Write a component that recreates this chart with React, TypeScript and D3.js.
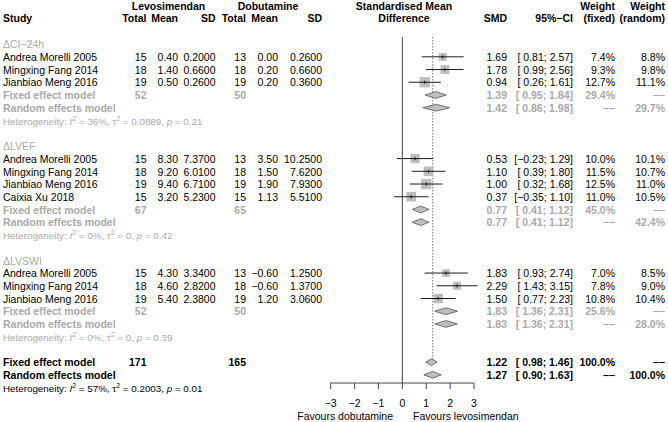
import React from "react";
import * as d3 from "d3";

const groupLabels = ["ΔCI−24h", "ΔLVEF", "ΔLVSWI"];
const studyNames = [
  "Andrea Morelli 2005", "Mingxing Fang 2014", "Jianbiao Meng 2016",
  "Andrea Morelli 2005", "Mingxing Fang 2014", "Jianbiao Meng 2016", "Caixia Xu 2018",
  "Andrea Morelli 2005", "Mingxing Fang 2014", "Jianbiao Meng 2016",
];
const studyGroup = [0, 0, 0, 1, 1, 1, 1, 2, 2, 2];
const nLevo = [15, 18, 19, 15, 18, 19, 15, 15, 18, 19];
const meanLevo = [0.4, 1.4, 0.5, 8.3, 9.2, 9.4, 3.2, 4.3, 4.6, 5.4];
const sdLevo = [0.2, 0.66, 0.26, 7.37, 6.01, 6.71, 5.23, 3.34, 2.82, 2.38];
const nDobu = [13, 18, 19, 13, 18, 19, 15, 13, 18, 19];
const meanDobu = [0.0, 0.2, 0.2, 3.5, 1.5, 1.9, 1.13, -0.6, -0.6, 1.2];
const sdDobu = [0.26, 0.66, 0.36, 10.25, 7.62, 7.93, 5.51, 1.25, 1.37, 3.06];
const smd = [1.69, 1.78, 0.94, 0.53, 1.1, 1.0, 0.37, 1.83, 2.29, 1.5];
const ciLow = [0.81, 0.99, 0.26, -0.23, 0.39, 0.32, -0.35, 0.93, 1.43, 0.77];
const ciHigh = [2.57, 2.56, 1.61, 1.29, 1.8, 1.68, 1.1, 2.74, 3.15, 2.23];
const wFixed = [7.4, 9.3, 12.7, 10.0, 11.5, 12.5, 11.0, 7.0, 7.8, 10.8];
const wRandom = [8.8, 9.8, 11.1, 10.1, 10.7, 11.0, 10.5, 8.5, 9.0, 10.4];

const subNLevo = [52, 67, 52];
const subNDobu = [50, 65, 50];
const subFixed = [1.39, 0.77, 1.83];
const subFixedLow = [0.95, 0.41, 1.36];
const subFixedHigh = [1.84, 1.12, 2.31];
const subRandom = [1.42, 0.77, 1.83];
const subRandomLow = [0.86, 0.41, 1.36];
const subRandomHigh = [1.98, 1.12, 2.31];
const subWFixed = [29.4, 45.0, 25.6];
const subWRandom = [29.7, 42.4, 28.0];
const subI2 = ["36%", "0%", "0%"];
const subTau2 = ["0.0889", "0", "0"];
const subP = ["0.21", "0.42", "0.39"];

const overallN = [171, 165];
const overallFixed = [1.22, 0.98, 1.46];
const overallRandom = [1.27, 0.9, 1.63];
const overallHet = ["57%", "0.2003", "0.01"];

const axisTicks = [-3, -2, -1, 0, 1, 2, 3];

const W = 668, H = 422;
const FONT = "'Liberation Sans', Arial, Helvetica, sans-serif";
const FS = 10.5;
const GREY = "#A9A9A9";
const DASHES = "−−";

const f2 = d3.format(".2f");
const f4 = d3.format(".4f");
const f1 = d3.format(".1f");
const ci = (lo: number, hi: number) => `[${lo >= 0 ? " " : ""}${f2(lo)}; ${f2(hi)}]`;

const x = d3.scaleLinear().domain([-3, 3]).range([330.7, 474]);
const baseY = (i: number) => 48.3 + 12.72 * i;
const midY = (i: number) => baseY(i) - 4.2;

const col = { total: 146.5, mean: 178, sd: 215.5, total2: 246, mean2: 278, sd2: 322, smd: 507, ci: 573, wf: 615, wr: 665 };

type Row =
  | { kind: "group"; g: number }
  | { kind: "study"; s: number }
  | { kind: "fixed"; g: number }
  | { kind: "random"; g: number }
  | { kind: "het"; g: number }
  | { kind: "oFixed" }
  | { kind: "oRandom" }
  | { kind: "oHet" }
  | { kind: "blank" };

function buildRows(): Row[] {
  const rows: Row[] = [];
  groupLabels.forEach((_, g) => {
    rows.push({ kind: "group", g });
    studyGroup.forEach((sg, s) => { if (sg === g) rows.push({ kind: "study", s }); });
    rows.push({ kind: "fixed", g });
    rows.push({ kind: "random", g });
    rows.push({ kind: "het", g });
    rows.push({ kind: "blank" });
  });
  rows.push({ kind: "oFixed" });
  rows.push({ kind: "oRandom" });
  rows.push({ kind: "oHet" });
  return rows;
}

const T = (props: any) => (
  <text fontFamily={FONT} fontSize={FS} {...props} />
);

function Het({ y, i2, tau2, p, color }: any) {
  return (
    <text x={3} y={y} fontFamily={FONT} fontSize={9.8} fill={color}>
      Heterogeneity: <tspan fontStyle="italic">I</tspan>
      <tspan fontSize={7} dy={-4}>2</tspan>
      <tspan dy={4}>{` = ${i2}, τ`}</tspan>
      <tspan fontSize={7} dy={-4}>2</tspan>
      <tspan dy={4}>{` = ${tau2}, `}</tspan>
      <tspan fontStyle="italic">p</tspan>
      {` = ${p}`}
    </text>
  );
}

function Diamond({ est, lo, hi, cy }: any) {
  const h = 3.4;
  const pts = [[x(lo), cy], [x(est), cy - h], [x(hi), cy], [x(est), cy + h]];
  return <polygon points={pts.map((p) => p.join(",")).join(" ")} fill="#BEBEBE" stroke="#555" strokeWidth={0.8} />;
}

export default function App() {
  const rows = buildRows();
  const axisY = 383;
  return (
    <svg width={W} height={H} style={{ position: "absolute", left: 0, top: 0, background: "#fff" }}>
      {/* headers */}
      <T x={168.5} y={10} textAnchor="middle" fontWeight="bold">Levosimendan</T>
      <T x={268} y={10} textAnchor="middle" fontWeight="bold">Dobutamine</T>
      <T x={404} y={10} textAnchor="middle" fontWeight="bold">Standardised Mean</T>
      <T x={404} y={21.5} textAnchor="middle" fontWeight="bold">Difference</T>
      <T x={615} y={10} textAnchor="end" fontWeight="bold">Weight</T>
      <T x={665} y={10} textAnchor="end" fontWeight="bold">Weight</T>
      <T x={3} y={21.5} fontWeight="bold">Study</T>
      <T x={col.total} y={21.5} textAnchor="end" fontWeight="bold">Total</T>
      <T x={col.mean} y={21.5} textAnchor="end" fontWeight="bold">Mean</T>
      <T x={col.sd} y={21.5} textAnchor="end" fontWeight="bold">SD</T>
      <T x={col.total2} y={21.5} textAnchor="end" fontWeight="bold">Total</T>
      <T x={col.mean2} y={21.5} textAnchor="end" fontWeight="bold">Mean</T>
      <T x={col.sd2} y={21.5} textAnchor="end" fontWeight="bold">SD</T>
      <T x={col.smd} y={21.5} textAnchor="end" fontWeight="bold">SMD</T>
      <T x={col.ci} y={21.5} textAnchor="end" fontWeight="bold">95%−CI</T>
      <T x={col.wf} y={21.5} textAnchor="end" fontWeight="bold">(fixed)</T>
      <T x={col.wr} y={21.5} textAnchor="end" fontWeight="bold">(random)</T>

      {/* reference lines */}
      <line x1={x(0)} x2={x(0)} y1={37} y2={axisY} stroke="#444" strokeWidth={1} />
      <line x1={x(overallRandom[0])} x2={x(overallRandom[0])} y1={37} y2={midY(rows.length - 3) - 3}
        stroke="#555" strokeWidth={0.8} strokeDasharray="1.5,1.5" />

      {rows.map((r, i) => {
        const by = baseY(i);
        const cy = midY(i);
        if (r.kind === "group") {
          return <T key={i} x={3} y={by} fill={GREY}>{groupLabels[r.g]}</T>;
        }
        if (r.kind === "study") {
          const s = r.s;
          const size = 2.9 * Math.sqrt(wFixed[s]);
          return (
            <g key={i}>
              <T x={3} y={by}>{studyNames[s]}</T>
              <T x={col.total} y={by} textAnchor="end">{nLevo[s]}</T>
              <T x={col.mean} y={by} textAnchor="end">{f2(meanLevo[s])}</T>
              <T x={col.sd} y={by} textAnchor="end">{f4(sdLevo[s])}</T>
              <T x={col.total2} y={by} textAnchor="end">{nDobu[s]}</T>
              <T x={col.mean2} y={by} textAnchor="end">{f2(meanDobu[s])}</T>
              <T x={col.sd2} y={by} textAnchor="end">{f4(sdDobu[s])}</T>
              <T x={col.smd} y={by} textAnchor="end">{f2(smd[s])}</T>
              <T x={col.ci} y={by} textAnchor="end">{ci(ciLow[s], ciHigh[s])}</T>
              <T x={col.wf} y={by} textAnchor="end">{f1(wFixed[s]) + "%"}</T>
              <T x={col.wr} y={by} textAnchor="end">{f1(wRandom[s]) + "%"}</T>
              <rect x={x(smd[s]) - size / 2} y={cy - size / 2} width={size} height={size} fill="#BEBEBE" />
              <line x1={x(ciLow[s])} x2={x(ciHigh[s])} y1={cy} y2={cy} stroke="#000" strokeWidth={0.9} />
              <line x1={x(smd[s])} x2={x(smd[s])} y1={cy - 1.6} y2={cy + 1.6} stroke="#000" strokeWidth={0.9} />
            </g>
          );
        }
        if (r.kind === "fixed" || r.kind === "random") {
          const g = r.g;
          const isF = r.kind === "fixed";
          const est = isF ? subFixed[g] : subRandom[g];
          const lo = isF ? subFixedLow[g] : subRandomLow[g];
          const hi = isF ? subFixedHigh[g] : subRandomHigh[g];
          return (
            <g key={i} fontWeight="bold">
              <T x={3} y={by} fill={GREY} fontWeight="bold">{isF ? "Fixed effect model" : "Random effects model"}</T>
              {isF && <T x={col.total} y={by} textAnchor="end" fill={GREY} fontWeight="bold">{subNLevo[g]}</T>}
              {isF && <T x={col.total2} y={by} textAnchor="end" fill={GREY} fontWeight="bold">{subNDobu[g]}</T>}
              <T x={col.smd} y={by} textAnchor="end" fill={GREY} fontWeight="bold">{f2(est)}</T>
              <T x={col.ci} y={by} textAnchor="end" fill={GREY} fontWeight="bold">{ci(lo, hi)}</T>
              <T x={col.wf} y={by} textAnchor="end" fill={GREY} fontWeight="bold">{isF ? f1(subWFixed[g]) + "%" : DASHES}</T>
              <T x={col.wr} y={by} textAnchor="end" fill={GREY} fontWeight="bold">{isF ? DASHES : f1(subWRandom[g]) + "%"}</T>
              <Diamond est={est} lo={lo} hi={hi} cy={cy} />
            </g>
          );
        }
        if (r.kind === "het") {
          return <Het key={i} y={by} i2={subI2[r.g]} tau2={subTau2[r.g]} p={subP[r.g]} color={GREY} />;
        }
        if (r.kind === "oFixed" || r.kind === "oRandom") {
          const isF = r.kind === "oFixed";
          const v = isF ? overallFixed : overallRandom;
          return (
            <g key={i}>
              <T x={3} y={by} fontWeight="bold">{isF ? "Fixed effect model" : "Random effects model"}</T>
              {isF && <T x={col.total} y={by} textAnchor="end" fontWeight="bold">{overallN[0]}</T>}
              {isF && <T x={col.total2} y={by} textAnchor="end" fontWeight="bold">{overallN[1]}</T>}
              <T x={col.smd} y={by} textAnchor="end" fontWeight="bold">{f2(v[0])}</T>
              <T x={col.ci} y={by} textAnchor="end" fontWeight="bold">{ci(v[1], v[2])}</T>
              <T x={col.wf} y={by} textAnchor="end" fontWeight="bold">{isF ? "100.0%" : DASHES}</T>
              <T x={col.wr} y={by} textAnchor="end" fontWeight="bold">{isF ? DASHES : "100.0%"}</T>
              <Diamond est={v[0]} lo={v[1]} hi={v[2]} cy={cy} />
            </g>
          );
        }
        if (r.kind === "oHet") {
          return <Het key={i} y={by} i2={overallHet[0]} tau2={overallHet[1]} p={overallHet[2]} color="#000" />;
        }
        return null;
      })}

      {/* axis */}
      <line x1={x(-3)} x2={x(3)} y1={axisY} y2={axisY} stroke="#444" strokeWidth={1} />
      {axisTicks.map((t) => (
        <g key={t}>
          <line x1={x(t)} x2={x(t)} y1={axisY} y2={axisY + 6} stroke="#444" strokeWidth={1} />
          <T x={x(t)} y={407} textAnchor="middle">{d3.format("d")(t)}</T>
        </g>
      ))}
      <T x={393} y={420} textAnchor="end">Favours dobutamine</T>
      <T x={413} y={420}>Favours levosimendan</T>
    </svg>
  );
}
